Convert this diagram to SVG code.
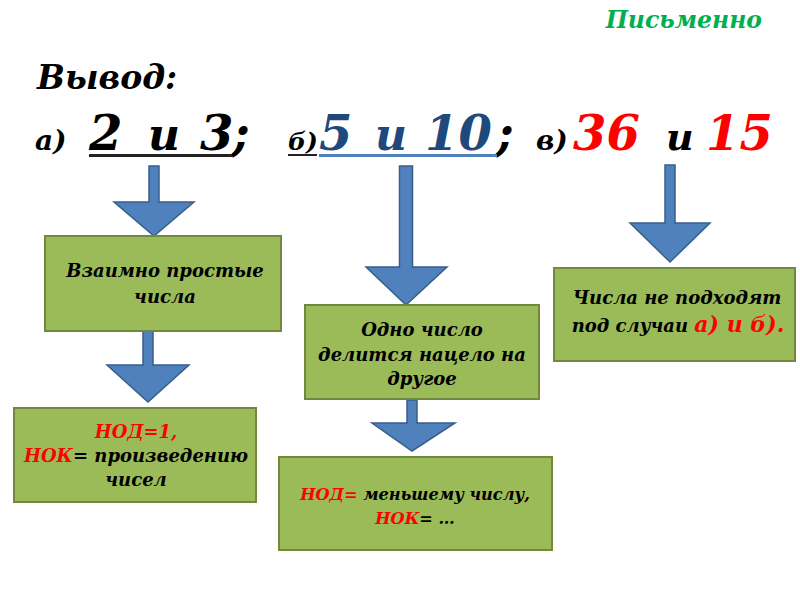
<svg xmlns="http://www.w3.org/2000/svg" width="800" height="600" viewBox="0 0 800 600">
<style>
.t{font-family:"DejaVu Serif","Liberation Serif",serif;font-weight:bold;font-style:italic;}
.box{fill:#9BBB59;stroke:#71893F;stroke-width:2;}
.arr{fill:#4F81BD;stroke:#385D8A;stroke-width:1.5;}
.bt{font-size:18px;fill:#000;text-anchor:middle;}
.red{fill:#FF0000;}
.blue{fill:#1F497D;}
.big{font-size:48px;}
</style>
<rect width="800" height="600" fill="#fff"/>
<g id="header">
<text class="t" x="762" y="28" font-size="23.5" fill="#00B050" text-anchor="end">Письменно</text>
<text class="t" x="37" y="89" font-size="33" fill="#000">Вывод:</text>
<g class="t" fill="#000">
<text x="35" y="150" font-size="28">а)</text>
<text class="big" x="89" y="150">2</text>
<text x="148" y="150" font-size="44">и</text>
<text class="big" x="200" y="150">3</text>
<text class="big" x="232" y="150">;</text>
<text x="288" y="150" font-size="25">б)</text>
<text class="big blue" x="319" y="150">5</text>
<text class="blue" x="375" y="150" font-size="44">и</text>
<text class="big blue" x="425" y="150">10</text>
<text class="big" x="496" y="150">;</text>
<text x="536" y="150" font-size="28">в)</text>
<text class="big red" x="573" y="150">36</text>
<text x="666" y="150" font-size="38">и</text>
<text class="big red" x="706" y="150">15</text>
</g>
<line x1="89" y1="155.5" x2="232" y2="155.5" stroke="#222" stroke-width="3"/>
<line x1="288" y1="155" x2="317" y2="155" stroke="#222" stroke-width="2"/>
<line x1="319" y1="155.5" x2="497" y2="155.5" stroke="#4F81BD" stroke-width="3"/>
</g>
<g id="connectors">
<polygon class="arr" points="149,166 159,166 159,202 194,202 154,236 114,202 149,202"/>
<polygon class="arr" points="399.5,166 412.5,166 412.5,267 447,267 406,305 366,267 399.5,267"/>
<polygon class="arr" points="665,165 675,165 675,223 710,223 670,262 630,223 665,223"/>
<polygon class="arr" points="143,330 153,330 153,365 189,365 148,402 107,365 143,365"/>
<polygon class="arr" points="407,400 417,400 417,423 455,423 412,451 372,423 407,423"/>
</g>
<g id="node1">
<rect class="box" x="45" y="236" width="236" height="95"/>
<text class="t bt" x="165" y="277">Взаимно простые</text>
<text class="t bt" x="165" y="303">числа</text>
</g>
<g id="node2">
<rect class="box" x="305" y="305" width="234" height="94"/>
<text class="t bt" x="422" y="336">Одно число</text>
<text class="t bt" x="422" y="361">делится нацело на</text>
<text class="t bt" x="422" y="385">другое</text>
</g>
<g id="node3">
<rect class="box" x="554" y="268" width="241" height="93"/>
<text class="t bt" x="677" y="304">Числа не подходят</text>
<text class="t bt" x="678" y="332">под случаи <tspan class="red" font-size="22">а) и б).</tspan></text>
</g>
<g id="node4">
<rect class="box" x="14" y="408" width="242" height="94"/>
<text class="t bt" x="136" y="438"><tspan class="red">НОД=1,</tspan></text>
<text class="t bt" x="136" y="462"><tspan class="red">НОК</tspan>= произведению</text>
<text class="t bt" x="136" y="486">чисел</text>
</g>
<g id="node5">
<rect class="box" x="279" y="457" width="273" height="93"/>
<text class="t bt" x="415" y="500" style="font-size:16.2px"><tspan class="red">НОД=</tspan> меньшему числу,</text>
<text class="t bt" x="415" y="524" style="font-size:16.2px"><tspan class="red">НОК</tspan>= …</text>
</g>
</svg>
